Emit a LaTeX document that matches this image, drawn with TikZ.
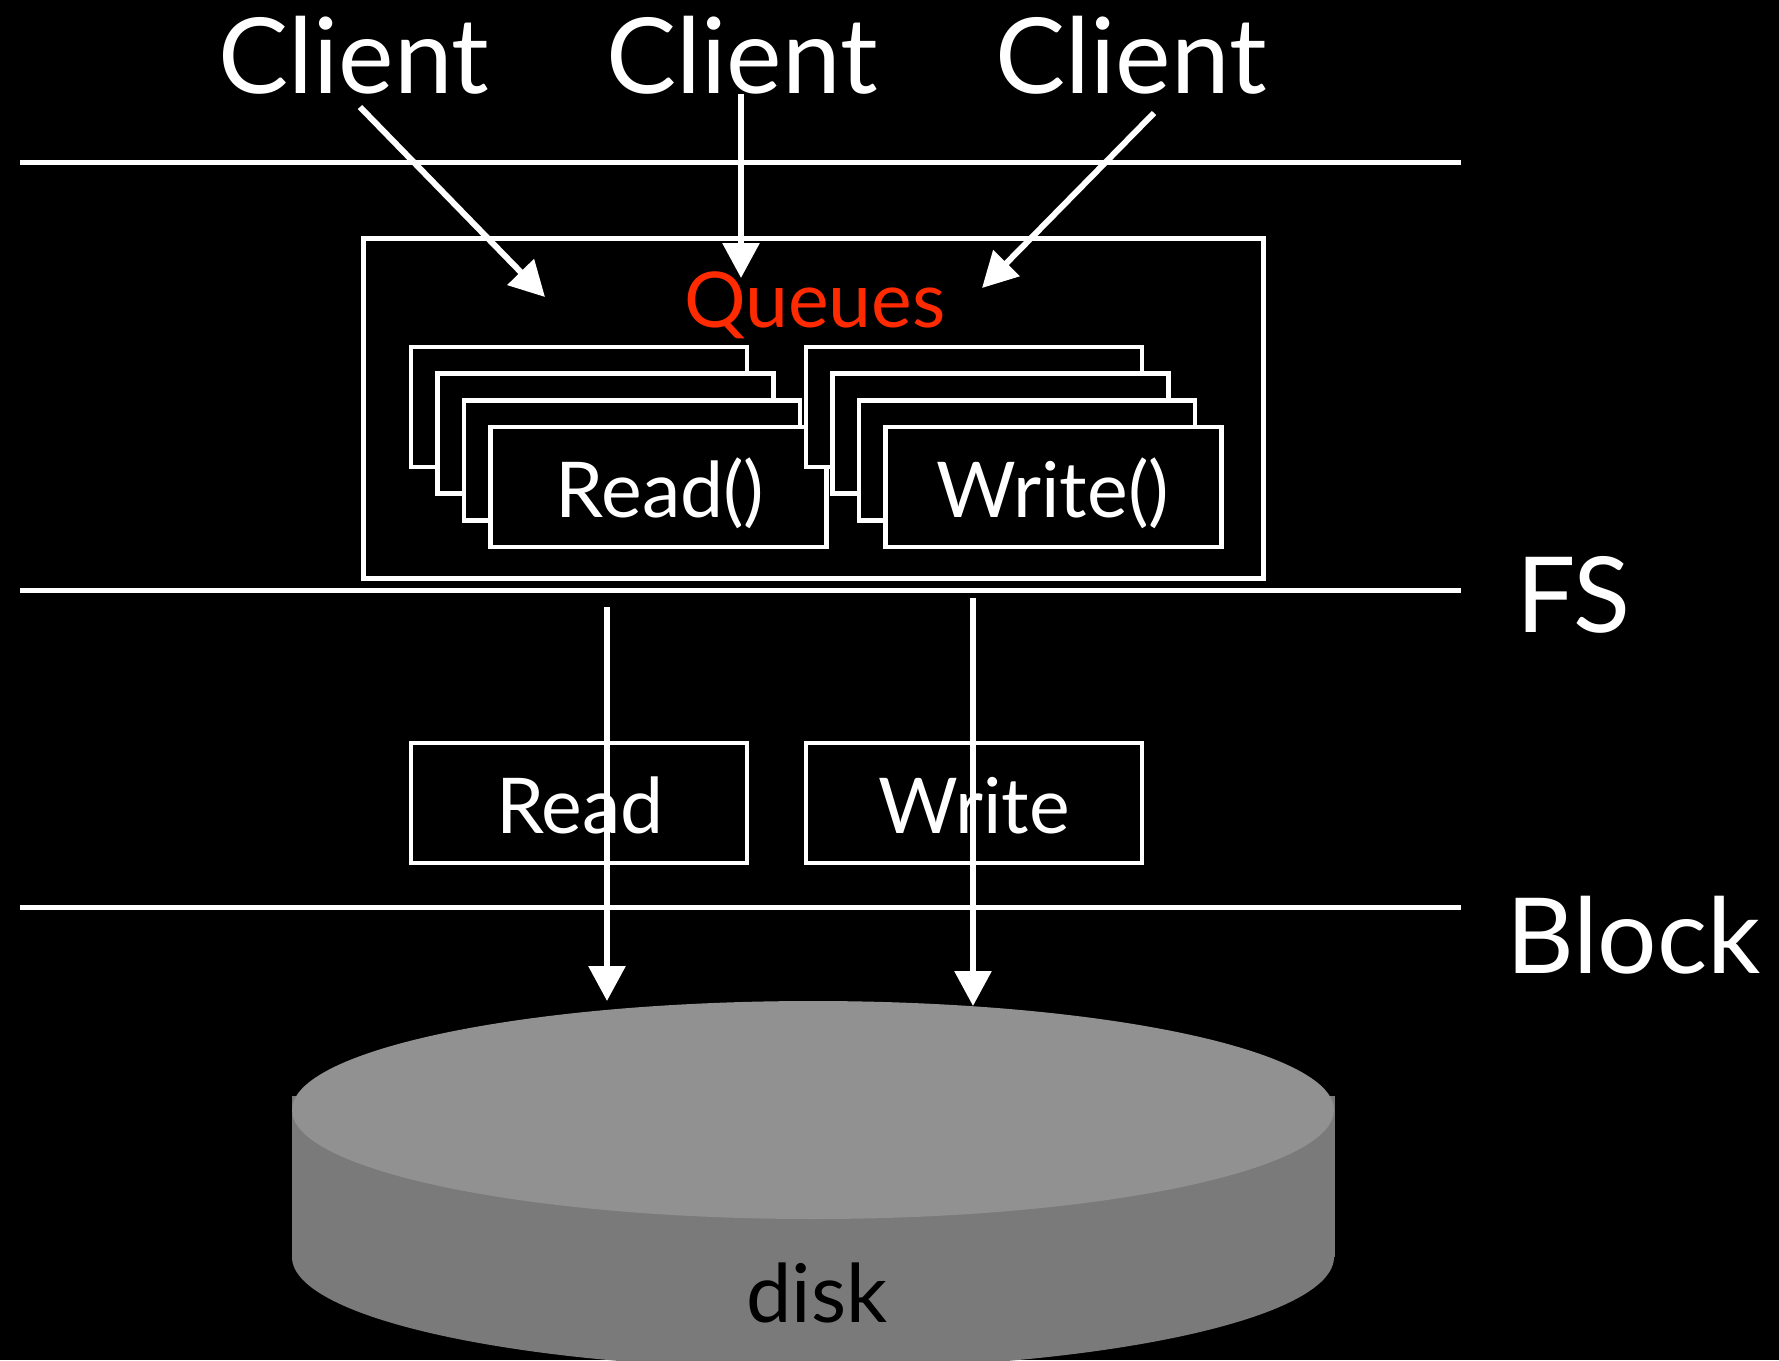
\documentclass[tikz,border=0pt]{standalone}
\usepackage{fontspec}
\setmainfont{Lato}
\usetikzlibrary{arrows.meta}
\definecolor{queuered}{HTML}{FF2A00}
\definecolor{disktop}{HTML}{919191}
\definecolor{diskside}{HTML}{7A7A7A}
\tikzset{
  bigtext/.style={text=white, inner sep=0pt, font=\fontsize{105}{110}\selectfont},
  midtext/.style={text=white, inner sep=0pt, font=\fontsize{77}{80}\selectfont},
  layerline/.style={draw=white, line width=5pt},
  qbox/.style={draw=white, fill=black, line width=4.5pt},
  flow/.style={draw=white, line width=6pt, -{Triangle[length=35pt,width=36pt]}},
}
\begin{document}
\begin{tikzpicture}[x=1pt,y=-1pt]
% canvas
\fill[black] (0,0) rectangle (1779,1360);
\useasboundingbox (0,0) rectangle (1779,1360);

% layer separators
\draw[layerline] (20,162) -- (1461,162);
\draw[layerline] (20,590) -- (1461,590);
\draw[layerline] (20,907) -- (1461,907);

% layer labels
\node[bigtext, anchor=base west] (fs) at (1516,632) {FS};
\node[bigtext, anchor=base west] (blk) at (1506,973) {Block};

% clients
\node[bigtext, anchor=base] (c1) at (354,93) {Client};
\node[bigtext, anchor=base] (c2) at (742,93) {Client};
\node[bigtext, anchor=base] (c3) at (1131,93) {Client};

% queue container
\draw[draw=white, line width=5pt] (363,238) rectangle (1263,578);
\node[text=queuered, inner sep=0pt, anchor=base, font=\fontsize{77}{80}\selectfont] (q) at (815,327) {Queues};

% read queue stack
\foreach \i in {0,1,2,3} {
  \draw[qbox] ({411+26.5*\i},{347+26.7*\i}) rectangle ++(336,120);
}
\node[midtext, anchor=base] (rq) at (660,517) {Read()};

% write queue stack
\foreach \i in {0,1,2,3} {
  \draw[qbox] ({806+26.5*\i},{347+26.7*\i}) rectangle ++(336,120);
}
\node[midtext, anchor=base] (wq) at (1053,517) {Write()};

% block layer requests
\draw[qbox] (411,743) rectangle (747,863);
\node[midtext, anchor=base] (rd) at (580,833) {Read};
\draw[qbox] (806,743) rectangle (1142,863);
\node[midtext, anchor=base] (wr) at (974,833) {Write};

% disk
\fill[diskside] (292,1096) rectangle (1335,1257);
\fill[diskside] (813,1257) ellipse [x radius=521, y radius=112];
\fill[disktop] (813,1110) ellipse [x radius=521, y radius=109];
\node[inner sep=0pt, anchor=base, text=black, font=\fontsize{81}{84}\selectfont] (dk) at (817,1322) {disk};

% client requests entering the queues
\coordinate (s1) at (360,107);
\coordinate (e1) at (545,297);
\coordinate (s2) at (741,94);
\coordinate (e2) at (741,278);
\coordinate (s3) at (1154,113);
\coordinate (e3) at (982,288);
\draw[flow] (s1) -- (e1);
\draw[flow] (s2) -- (e2);
\draw[flow] (s3) -- (e3);

% requests issued to the disk
\coordinate (rs) at (607,607);
\coordinate (re) at (607,1001);
\coordinate (ws) at (973,598);
\coordinate (we) at (973,1006);
\draw[flow] (rs) -- (re);
\draw[flow] (ws) -- (we);
\end{tikzpicture}
\end{document}
